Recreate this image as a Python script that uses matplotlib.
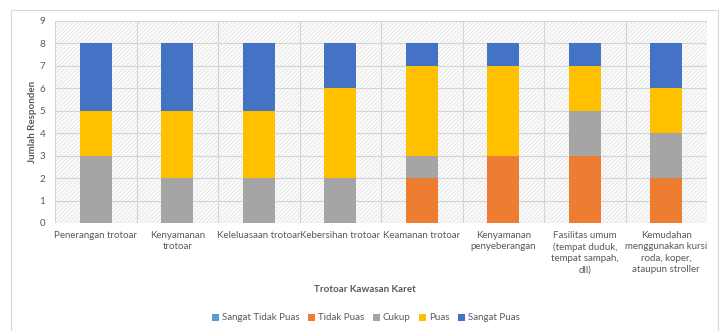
import matplotlib
matplotlib.use("Agg")
import matplotlib.pyplot as plt
from matplotlib.patches import Rectangle
import numpy as np

categories = [
    "Penerangan trotoar",
    "Kenyamanan\ntrotoar",
    "Keleluasaan trotoar",
    "Kebersihan trotoar",
    "Keamanan trotoar",
    "Kenyamanan\npenyeberangan",
    "Fasilitas umum\n(tempat duduk,\ntempat sampah,\ndll)",
    "Kemudahan\nmenggunakan kursi\nroda, koper,\nataupun stroller",
]
series_names = ["Sangat Tidak Puas", "Tidak Puas", "Cukup", "Puas", "Sangat Puas"]
sangat_tidak_puas = [0, 0, 0, 0, 0, 0, 0, 0]
tidak_puas = [0, 0, 0, 0, 2, 3, 3, 2]
cukup = [3, 2, 2, 2, 1, 0, 2, 2]
puas = [2, 3, 3, 4, 4, 4, 2, 2]
sangat_puas = [3, 3, 3, 2, 1, 1, 1, 2]
colors = ["#5B9BD5", "#ED7D31", "#A5A5A5", "#FFC000", "#4472C4"]

plt.rcParams['font.family'] = ['Lato', 'DejaVu Sans']
plt.rcParams['hatch.linewidth'] = 0.5

fig = plt.figure(figsize=(7.22, 3.31), dpi=100)
ax = fig.add_axes([55/722, 1-223/331, (707-55)/722, (223-21)/331])

x = np.arange(len(categories))
ax.set_xlim(-0.5, len(categories)-0.5)
ax.set_ylim(0, 9)

# hatched background
ax.add_patch(Rectangle((-0.5, 0), len(categories), 9, facecolor='#fbfbfb',
                       edgecolor='#e0e0e0', hatch='////////', linewidth=0, zorder=0))
for yv in range(0, 10):
    ax.axhline(yv, color='#d4d4d4', lw=0.8, zorder=1)
for xv in np.arange(-0.5, len(categories), 1.0):
    ax.axvline(xv, color='#d4d4d4', lw=0.8, zorder=1)

bottom = np.zeros(len(categories))
for name, vals, c in zip(series_names, [sangat_tidak_puas, tidak_puas, cukup, puas, sangat_puas], colors):
    ax.bar(x, vals, 0.39, bottom=bottom, color=c, label=name, zorder=2)
    bottom += np.array(vals)

for s in ax.spines.values():
    s.set_visible(False)
ax.set_xticks(x)
ax.set_xticklabels(categories, fontsize=7, color='#595959', linespacing=1.3)
ax.set_yticks(range(0, 10))
ax.tick_params(axis='y', labelsize=7, colors='#595959', length=0, pad=7)
ax.tick_params(axis='x', length=0, pad=6)
ax.set_ylabel("Jumlah Responden", fontsize=7, color='#595959', fontweight='bold', labelpad=2)
fig.text(365/722, 1-289/331, "Trotoar Kawasan Karet", fontsize=7, color='#595959',
         fontweight='bold', ha='center', va='center')

handles, labels = ax.get_legend_handles_labels()
fig.legend(handles, labels, loc='center', bbox_to_anchor=(366/722, 1-318/331), ncol=5,
           frameon=False, fontsize=7, labelcolor='#595959', handlelength=0.7,
           handleheight=0.7, handletextpad=0.3, columnspacing=0.9)

fig.add_artist(Rectangle((11/722, -0.1), (718-11)/722, (331-10)/331 + 0.1,
                         transform=fig.transFigure, fill=False, edgecolor='#d9d9d9', lw=0.8))

fig.savefig("out.png", dpi=100, facecolor='white')
